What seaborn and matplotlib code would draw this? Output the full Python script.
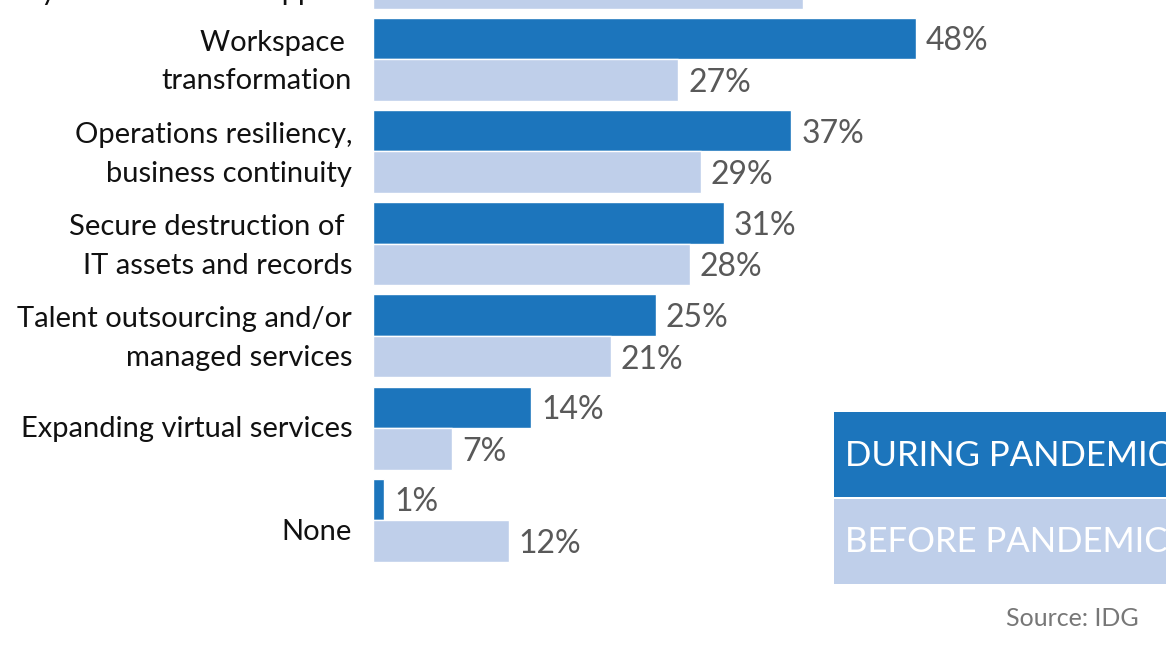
import pandas as pd
import numpy as np
import matplotlib.pyplot as plt
import seaborn as sns
from matplotlib.patches import Rectangle
from matplotlib.transforms import ScaledTranslation

# data (top group is cut off in the reference)
categories = ['\nHybrid workforce support',
              'Workspace \ntransformation',
              'Operations resiliency,\nbusiness continuity',
              'Secure destruction of \nIT assets and records',
              'Talent outsourcing and/or\nmanaged services',
              'Expanding virtual services',
              'None']
during = [52, 48, 37, 31, 25, 14, 1]
before = [38, 27, 29, 28, 21, 7, 12]
periods = ['DURING PANDEMIC', 'BEFORE PANDEMIC']
colors = ['#1c75bc', '#bfcfea']

df = pd.DataFrame({
    'category': categories * 2,
    'value': during + before,
    'period': [periods[0]] * len(categories) + [periods[1]] * len(categories),
})

sns.set_style('white')
plt.rcParams['font.family'] = ['Lato', 'DejaVu Sans']

W, H = 1166, 660
fig = plt.figure(figsize=(W / 100, H / 100), dpi=100)
# axes runs past the top edge so the first group is cut off like the reference
ax = fig.add_axes([373 / W, 0, 1 - 373 / W, 700 / H])

sns.barplot(data=df, x='value', y='category', hue='period', palette=colors,
            saturation=1, orient='h', width=0.9, dodge=True,
            edgecolor='white', linewidth=1, legend=False, ax=ax)

ax.set_xlim(0, (W - 373) / 11.31)
ax.set_ylim(7.516, 7.516 - 700 / 92.2)

for c, vals in zip(ax.containers, [during, before]):
    texts = ax.bar_label(c, labels=[f'{v}%' for v in vals], padding=7,
                         fontsize=23, color='#595959')
    for t in texts:
        t.set_va('center_baseline')

ax.set_xlabel('')
ax.set_ylabel('')
ax.set_xticks([])
ax.tick_params(axis='y', length=0, pad=15)
for lab in ax.get_yticklabels():
    lab.set_fontsize(21)
    lab.set_color('#111111')
    lab.set_linespacing(1.6)
    # nudge labels vertically (pixels, up is positive)
    txt = lab.get_text()
    if txt.startswith('\n'):
        dy = 3
    elif '\n' in txt:
        dy = 6
    elif txt == 'None':
        dy = -9
    else:
        dy = 2
    lab.set_transform(lab.get_transform() + ScaledTranslation(0, dy / 100, fig.dpi_scale_trans))
sns.despine(ax=ax, left=True, bottom=True)

# legend boxes at lower right (cut off by the figure edge)
boxes = [(412, 497), (499, 584)]
for (top, bottom), label, col in zip(boxes, periods, colors):
    fig.add_artist(Rectangle((834 / W, 1 - bottom / H), 400 / W, (bottom - top) / H,
                             transform=fig.transFigure, color=col, lw=0))
    fig.text(845 / W, 1 - (top + bottom) / 2 / H + 2 / H, label, color='white',
             fontsize=25, va='center_baseline', ha='left')

fig.text(1139 / W, 1 - 616 / H, 'Source: IDG', color='#777777',
         fontsize=18, ha='right', va='center_baseline')

fig.savefig('out.png', dpi=100)
